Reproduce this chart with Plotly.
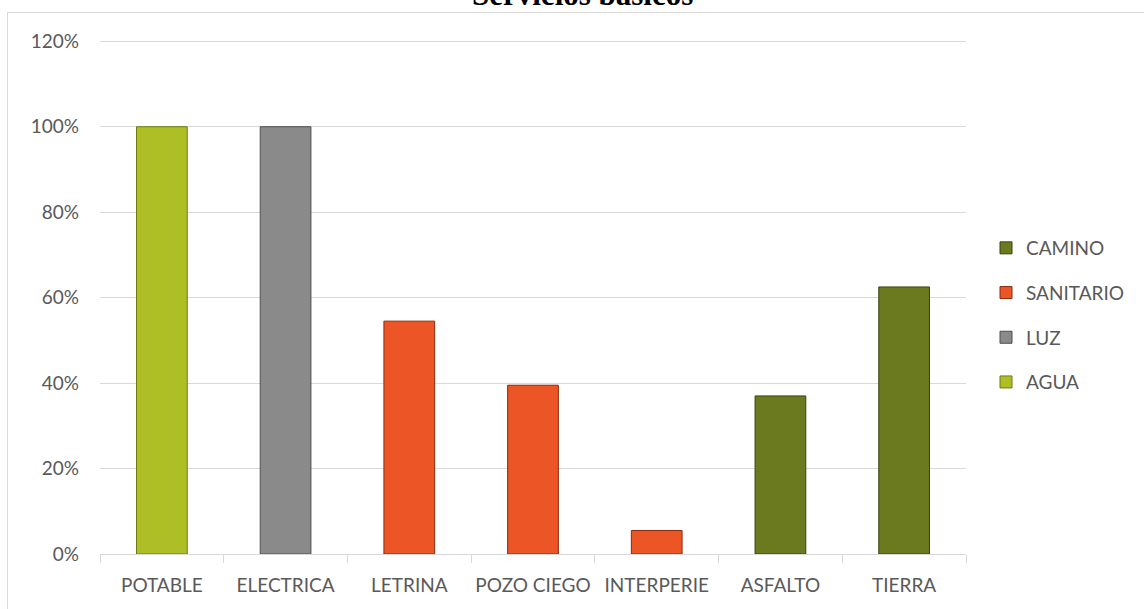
import plotly.graph_objects as go

categories = ["POTABLE", "ELECTRICA", "LETRINA", "POZO CIEGO", "INTERPERIE", "ASFALTO", "TIERRA"]

agua_cats = ["POTABLE"]
agua_vals = [1.00]
luz_cats = ["ELECTRICA"]
luz_vals = [1.00]
sanitario_cats = ["LETRINA", "POZO CIEGO", "INTERPERIE"]
sanitario_vals = [0.545, 0.395, 0.055]
camino_cats = ["ASFALTO", "TIERRA"]
camino_vals = [0.37, 0.625]

y_ticks = [0, 0.2, 0.4, 0.6, 0.8, 1.0, 1.2]

FONT = "Lato"
TXT = "#595959"
FS = 19

W, H = 1144, 609
ML, MR, MT, MB = 100, 178, 37, 55
PW, PH = W - ML - MR, H - MT - MB


def px(x):
    return (x - ML) / PW


def py(y):
    return (H - MB - y) / PH


series = [
    ("AGUA", agua_cats, agua_vals, "#AEBF25", "#6F7A10", 4),
    ("LUZ", luz_cats, luz_vals, "#8A8A8A", "#4F4F4F", 3),
    ("SANITARIO", sanitario_cats, sanitario_vals, "#EC5526", "#8A2A0C", 2),
    ("CAMINO", camino_cats, camino_vals, "#6B7A1E", "#3A430C", 1),
]

fig = go.Figure()
for name, cats, vals, fill, line, rank in series:
    fig.add_trace(go.Bar(
        name=name, x=cats, y=vals, width=0.41,
        marker=dict(color=fill, line=dict(color=line, width=1)),
        legendgroup=name, legendrank=rank,
    ))

fig.update_layout(
    width=W, height=H,
    margin=dict(l=ML, r=MR, t=MT, b=MB, autoexpand=False),
    paper_bgcolor="white", plot_bgcolor="white",
    barmode="overlay",
    showlegend=True,
    legend=dict(
        x=px(986), xanchor="left", y=py(229), yanchor="top",
        traceorder="grouped", tracegroupgap=17,
        font=dict(family=FONT, size=FS, color=TXT),
        bgcolor="rgba(0,0,0,0)",
    ),
    font=dict(family=FONT, size=FS, color=TXT),
)

fig.update_xaxes(
    type="category", categoryorder="array", categoryarray=categories,
    showline=True, linecolor="#D9D9D9", linewidth=1,
    ticks="outside", tickson="boundaries", ticklen=8, tickcolor="#D9D9D9",
    showgrid=False, tickfont=dict(family=FONT, size=FS, color=TXT),
    tickangle=0, automargin=False, ticklabelstandoff=14,
    range=[-0.5, len(categories) - 0.5],
)
fig.update_yaxes(
    range=[0, 1.21], tickvals=y_ticks, tickformat=".0%",
    showgrid=True, gridcolor="#D9D9D9", gridwidth=1,
    zeroline=False, showline=False, ticks="",
    ticklabelstandoff=20, automargin=False,
    tickfont=dict(family=FONT, size=FS, color=TXT),
)

# chart-area border (light gray), partly running off the page
fig.add_shape(type="rect", xref="paper", yref="paper",
              x0=px(7.5), x1=px(1160), y0=py(630), y1=py(12.5),
              line=dict(color="#D9D9D9", width=1), fillcolor="rgba(0,0,0,0)", layer="below")

fig.add_annotation(
    text="<b>Servicios básicos</b>", xref="paper", yref="paper",
    x=px(582.5), y=py(-5), xanchor="center", yanchor="middle",
    showarrow=False, font=dict(family="Liberation Serif", size=31, color="black"),
)

fig.write_html("out.html")
